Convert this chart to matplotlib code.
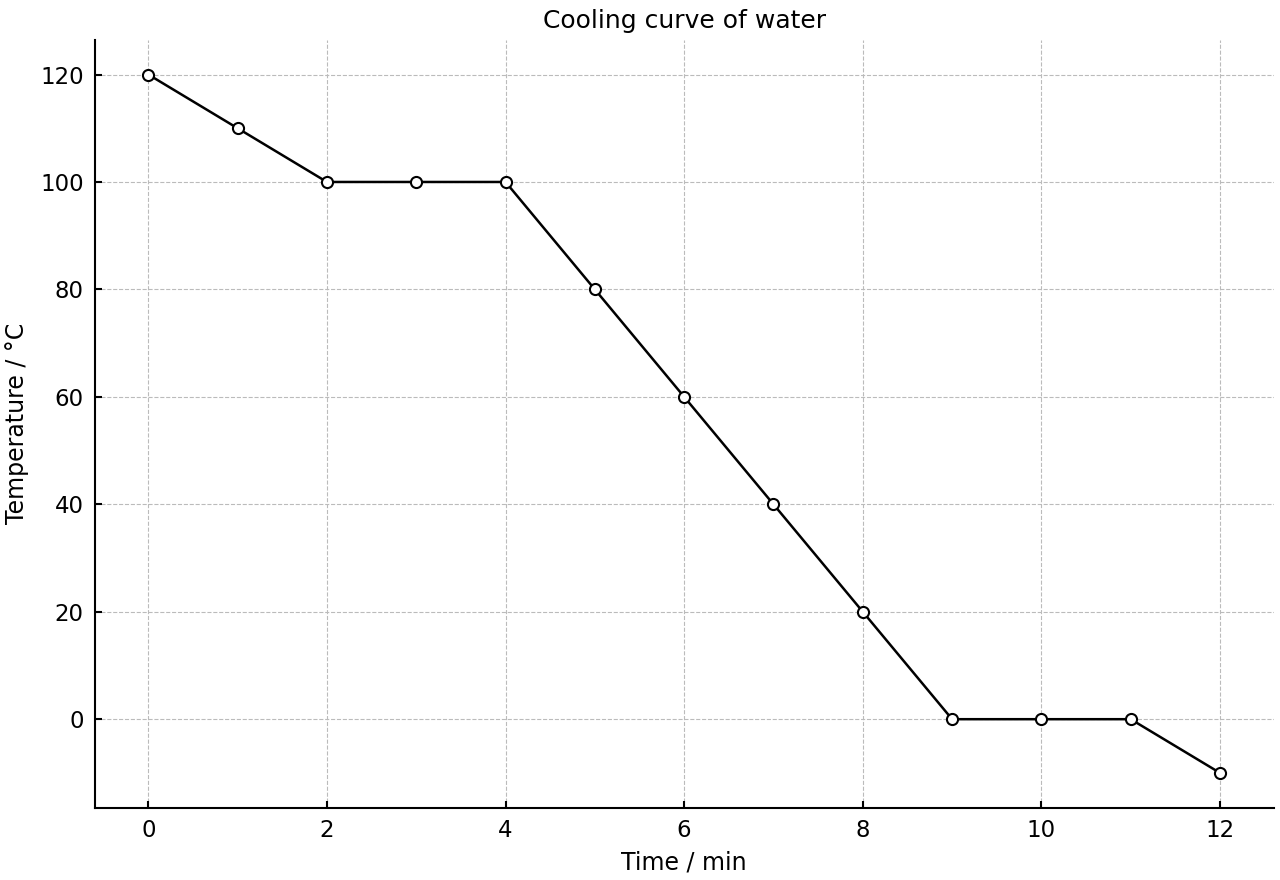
import matplotlib
matplotlib.use("Agg")
import matplotlib.pyplot as plt

time_min = [0, 1, 2, 3, 4, 5, 6, 7, 8, 9, 10, 11, 12]
temperature_c = [120, 110, 100, 100, 100, 80, 60, 40, 20, 0, 0, 0, -10]

fig, ax = plt.subplots(figsize=(12.8, 8.8), dpi=100)
ax.plot(time_min, temperature_c, color="black", linewidth=1.8, marker="o",
        markersize=8, markerfacecolor="white", markeredgecolor="black",
        markeredgewidth=1.5, zorder=3)

ax.set_title("Cooling curve of water", fontsize=18, pad=8)
ax.set_xlabel("Time / min", fontsize=17, labelpad=6)
ax.set_ylabel("Temperature / °C", fontsize=17, labelpad=8)
ax.set_xticks(range(0, 13, 2))
ax.set_yticks(range(0, 121, 20))
ax.tick_params(direction="in", labelsize=16.5, length=5, width=1.5, pad=8)
ax.grid(True, linestyle="--", color="#bbbbbb", linewidth=0.8)
ax.set_axisbelow(True)
for side in ["top", "right"]:
    ax.spines[side].set_visible(False)
for side in ["left", "bottom"]:
    ax.spines[side].set_linewidth(1.5)

fig.subplots_adjust(left=0.074, right=0.995, top=0.955, bottom=0.082)
fig.savefig("out.png", dpi=100)
